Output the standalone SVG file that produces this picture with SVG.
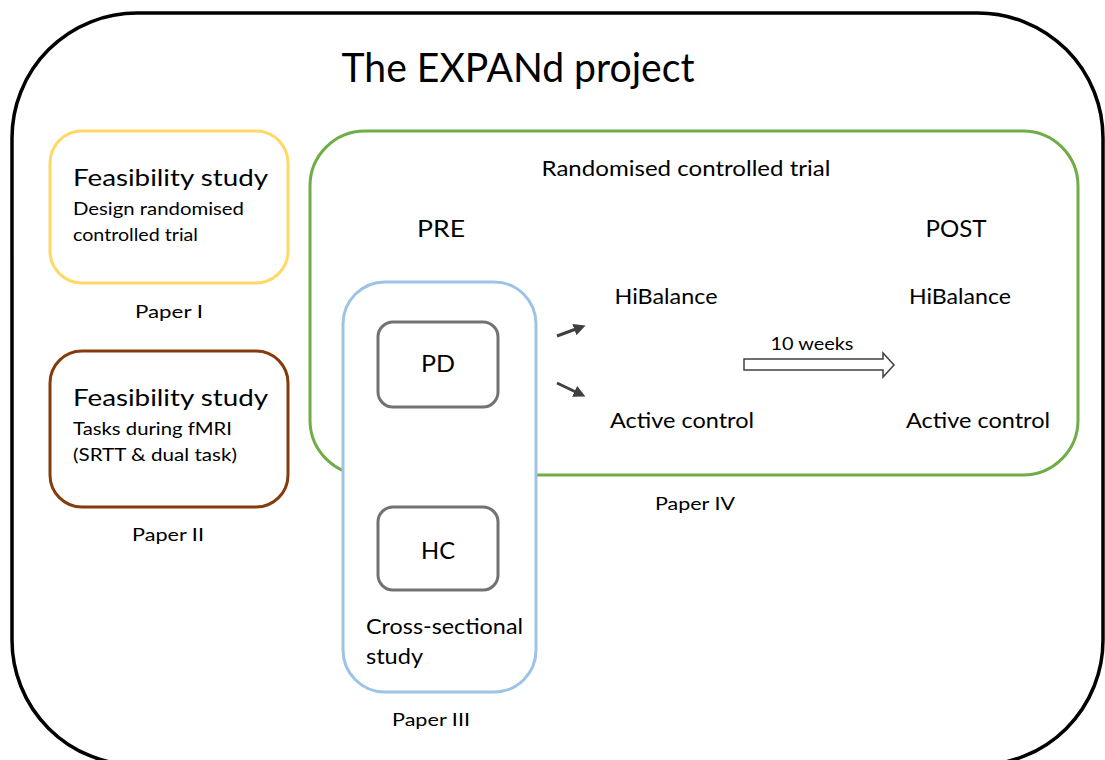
<svg xmlns="http://www.w3.org/2000/svg" width="1105" height="760" viewBox="0 0 1105 760">
<defs>
<style>
text{font-family:Lato,"Open Sans","Liberation Sans",sans-serif;fill:#000}
.box{fill:#fff;stroke-width:3}
.inner{fill:#fff;stroke:#767171;stroke-width:3}
.t24{font-size:24px}
.t22{font-size:22px}
.t18{font-size:18px}
.mid{text-anchor:middle}
</style>
<marker id="ah" markerWidth="4" markerHeight="4" refX="2" refY="2" orient="auto" markerUnits="strokeWidth">
<path d="M0,0 L4,2 L0,4 Z" fill="#404040"/>
</marker>
</defs>
<rect x="0" y="0" width="1105" height="760" fill="#fff"/>
<g id="outer">
<rect x="12" y="13" width="1091" height="752" rx="125" ry="125" fill="#fff" stroke="#000" stroke-width="3.5"/>
<text x="518" y="82" class="mid" style="font-size:40px" textLength="353" lengthAdjust="spacingAndGlyphs">The EXPANd project</text>
</g>
<g id="rct">
<rect class="box" x="310" y="131" width="768" height="344" rx="55" stroke="#70AD47"/>
<text x="686" y="176" class="t22 mid" textLength="289" lengthAdjust="spacingAndGlyphs">Randomised controlled trial</text>
<text x="441" y="237" class="t24 mid" textLength="48" lengthAdjust="spacingAndGlyphs">PRE</text>
<text x="956" y="237" class="t24 mid" textLength="61" lengthAdjust="spacingAndGlyphs">POST</text>
<text x="666" y="304" class="t22 mid" textLength="103" lengthAdjust="spacingAndGlyphs">HiBalance</text>
<text x="960" y="304" class="t22 mid" textLength="102" lengthAdjust="spacingAndGlyphs">HiBalance</text>
<text x="682" y="428" class="t22 mid" textLength="144" lengthAdjust="spacingAndGlyphs">Active control</text>
<text x="978" y="428" class="t22 mid" textLength="144" lengthAdjust="spacingAndGlyphs">Active control</text>
<text x="695" y="510" class="t18 mid" textLength="80" lengthAdjust="spacingAndGlyphs">Paper IV</text>
</g>
<g id="feas1">
<rect class="box" x="50" y="131" width="238" height="152" rx="32" stroke="#FFD966"/>
<text x="73" y="186" class="t24" textLength="195" lengthAdjust="spacingAndGlyphs">Feasibility study</text>
<text x="73" y="215" class="t18" textLength="171" lengthAdjust="spacingAndGlyphs">Design randomised</text>
<text x="73" y="241" class="t18" textLength="125" lengthAdjust="spacingAndGlyphs">controlled trial</text>
<text x="169" y="318" class="t18 mid" textLength="68" lengthAdjust="spacingAndGlyphs">Paper I</text>
</g>
<g id="feas2">
<rect class="box" x="50" y="351" width="238" height="156" rx="32" stroke="#843C0C"/>
<text x="73" y="406" class="t24" textLength="195" lengthAdjust="spacingAndGlyphs">Feasibility study</text>
<text x="73" y="435" class="t18" textLength="159" lengthAdjust="spacingAndGlyphs">Tasks during fMRI</text>
<text x="73" y="461" class="t18" textLength="164" lengthAdjust="spacingAndGlyphs">(SRTT &amp; dual task)</text>
<text x="168" y="541" class="t18 mid" textLength="72" lengthAdjust="spacingAndGlyphs">Paper II</text>
</g>
<g id="cross">
<rect class="box" x="343" y="282" width="193" height="410" rx="42" stroke="#9DC3E6"/>
<text x="366" y="634" class="t22" textLength="157" lengthAdjust="spacingAndGlyphs">Cross-sectional</text>
<text x="366" y="664" class="t22" textLength="57" lengthAdjust="spacingAndGlyphs">study</text>
<text x="431" y="726" class="t18 mid" textLength="78" lengthAdjust="spacingAndGlyphs">Paper III</text>
</g>
<g id="pd">
<rect class="inner" x="378" y="322" width="120" height="85" rx="15"/>
<text x="438" y="372" class="t24 mid" textLength="34" lengthAdjust="spacingAndGlyphs">PD</text>
</g>
<g id="hc">
<rect class="inner" x="378" y="507" width="120" height="83" rx="15"/>
<text x="438" y="559" class="t24 mid" textLength="34" lengthAdjust="spacingAndGlyphs">HC</text>
</g>
<g id="connectors">
<line x1="557" y1="336" x2="580" y2="327.5" stroke="#404040" stroke-width="3" marker-end="url(#ah)"/>
<line x1="557" y1="383" x2="580" y2="394" stroke="#404040" stroke-width="3" marker-end="url(#ah)"/>
<path d="M744,359 L883,359 L883,353 L894,365 L883,377 L883,370 L744,370 Z" fill="#fff" stroke="#404040" stroke-width="1.5"/>
<text x="812" y="350" style="font-size:17px" class="mid" textLength="83" lengthAdjust="spacingAndGlyphs">10 weeks</text>
</g>
</svg>
